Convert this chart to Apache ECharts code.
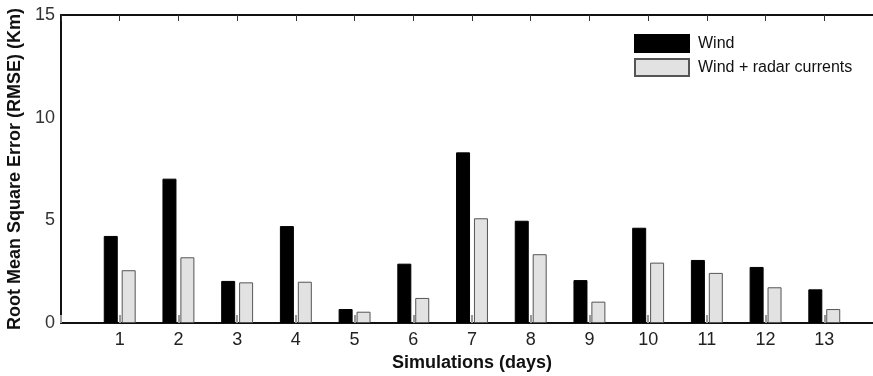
<!DOCTYPE html>
<html><head><meta charset="utf-8">
<script src="https://cdn.jsdelivr.net/npm/echarts@6/dist/echarts.min.js"></script>
<style>html,body{margin:0;padding:0;background:#fff}#c{width:873px;height:376px}</style>
</head><body><div id="c"></div>
<script>
const days = [1,2,3,4,5,6,7,8,9,10,11,12,13];
const windVals = [4.24,7.03,2.05,4.72,0.68,2.89,8.31,4.98,2.09,4.64,3.07,2.73,1.64];
const radarVals = [2.57,3.2,1.98,2.01,0.55,1.22,5.1,3.35,1.04,2.94,2.44,1.74,0.68];
const yTicks = [0,5,10,15];
const seriesNames = ['Wind','Wind + radar currents'];

const font = '"Liberation Sans", Arial, sans-serif';
const chart = echarts.init(document.getElementById('c'), null, {renderer:'canvas'});
chart.setOption({
  animation:false,
  backgroundColor:'#fff',
  grid:{left:61, top:15, width:822, height:308, containLabel:false, outerBoundsMode:'none'},
  legend:{
    orient:'vertical', left:629, top:29, itemWidth:54, itemHeight:17, itemGap:5,
    icon:'rect',
    textStyle:{fontFamily:font, fontSize:16, color:'#111', padding:[0,0,0,4]},
    data:seriesNames
  },
  xAxis:[{
    type:'value', min:0, max:14, interval:1, position:'bottom',
    name:'Simulations (days)', nameLocation:'middle', nameGap:31,
    nameTextStyle:{fontFamily:font, fontSize:18, fontWeight:'bold', color:'#111'},
    axisLine:{lineStyle:{color:'#111', width:2}},
    axisTick:{inside:true, length:8, lineStyle:{color:'#999', width:2}},
    splitLine:{show:false},
    axisLabel:{fontFamily:font, fontSize:18, color:'#222', margin:8,
      formatter:v => days.indexOf(v) >= 0 ? String(v) : ''}
  },{
    type:'value', min:0, max:14, interval:1, position:'top',
    axisLine:{show:true, lineStyle:{color:'#111', width:2}},
    axisTick:{inside:true, length:6, lineStyle:{color:'#333', width:1}},
    axisLabel:{show:false}, splitLine:{show:false}
  }],
  yAxis:{
    type:'value', min:0, max:15, interval:5,
    name:'Root Mean Square Error (RMSE) (Km)', nameLocation:'middle', nameGap:31,
    nameTextStyle:{fontFamily:font, fontSize:18, fontWeight:'bold', color:'#111'},
    axisLine:{show:true, lineStyle:{color:'#111', width:2}},
    axisTick:{show:false}, splitLine:{show:false},
    axisLabel:{fontFamily:font, fontSize:18, color:'#333', margin:6,
      formatter:v => yTicks.indexOf(v) >= 0 ? String(v) : ''}
  },
  series:[{
    name:seriesNames[0], type:'bar', barWidth:14, barGap:'28%',
    itemStyle:{color:'#000', borderColor:'#000', borderWidth:1},
    data:days.map((d,i)=>[d, windVals[i]])
  },{
    name:seriesNames[1], type:'bar', barWidth:14, barGap:'28%',
    itemStyle:{color:'#e2e2e2', borderColor:'#555', borderWidth:1},
    data:days.map((d,i)=>[d, radarVals[i]])
  }]
});
</script></body></html>
